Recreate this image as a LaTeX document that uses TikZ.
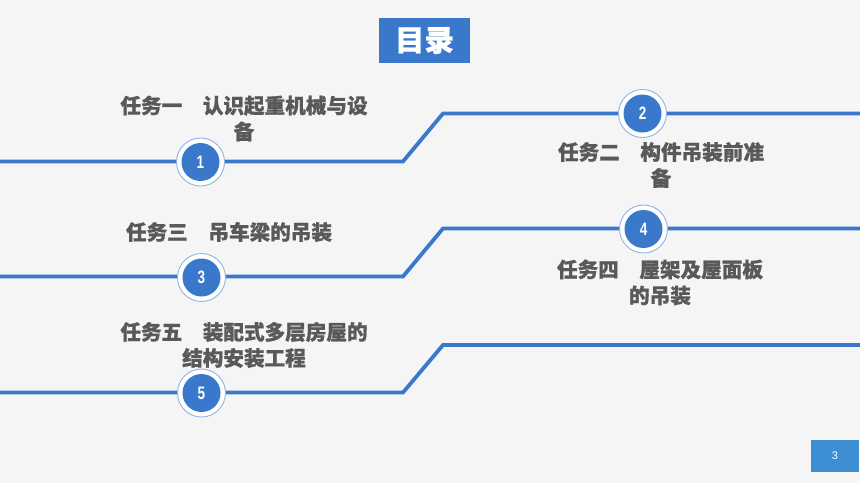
\documentclass[tikz,border=0pt]{standalone}
\usepackage{fontspec}
\newfontfamily\cjk{Noto Sans CJK SC}[BoldFeatures={FakeBold=0.8}]
\newfontfamily\numfont{Liberation Sans}
\definecolor{bgc}{HTML}{F5F5F5}
\definecolor{mblue}{HTML}{3A78CC}
\definecolor{rblue}{HTML}{8DB4EA}
\definecolor{pblue}{HTML}{3E8ED3}
\definecolor{tgray}{HTML}{595959}
\tikzset{
  tline/.style={draw=mblue, line width=3.8pt},
  numc/.style={circle, fill=white, draw=rblue, line width=0.9pt, minimum size=48pt, inner sep=0pt,
    path picture={\fill[mblue] (path picture bounding box.center) circle (19pt);},
    text=white, font=\numfont\bfseries\fontsize{18}{18}\selectfont},
  task/.style={align=center, text=tgray, font=\cjk\bfseries\fontsize{20.6}{26}\selectfont, inner sep=0pt},
}
\begin{document}
\begin{tikzpicture}[x=1pt,y=-1pt]
\fill[bgc] (0,0) rectangle (860,483);
\useasboundingbox (0,0) rectangle (860,483);
% line coordinates
\coordinate (a0) at (0,161.5);   \coordinate (a1) at (403,161.5);
\coordinate (a2) at (443,113.5); \coordinate (a3) at (860,113.5);
\coordinate (b0) at (0,276.5);   \coordinate (b1) at (403,276.5);
\coordinate (b2) at (443,228.5); \coordinate (b3) at (860,228.5);
\coordinate (d0) at (0,392.5);   \coordinate (d1) at (403,392.5);
\coordinate (d2) at (443,345);   \coordinate (d3) at (860,345);
\draw[tline] (a0) -- (a1) -- (a2) -- (a3);
\draw[tline] (b0) -- (b1) -- (b2) -- (b3);
\draw[tline] (d0) -- (d1) -- (d2) -- (d3);
% circles
\node[numc] (c1) at (200.5,162) {\scalebox{0.75}[1]{1}};
\node[numc] (c2) at (642.5,113.5) {\scalebox{0.75}[1]{2}};
\node[numc] (c3) at (201.5,277.5) {\scalebox{0.75}[1]{3}};
\node[numc] (c4) at (643.5,229) {\scalebox{0.75}[1]{4}};
\node[numc] (c5) at (201.5,393) {\scalebox{0.75}[1]{5}};
% texts
\node[task] (t1) at (244,118.5) {任务一　认识起重机械与设\\备};
\node[task] (t2) at (661,165) {任务二　构件吊装前准\\备};
\node[task] (t3) at (229,232) {任务三　吊车梁的吊装};
\node[task] (t4) at (660,282.5) {任务四　屋架及屋面板\\的吊装};
\node[task] (t5) at (244,345) {任务五　装配式多层房屋的\\结构安装工程};
% title
\node[fill=mblue, minimum width=91pt, minimum height=45pt, inner sep=0pt, text=white,
  font=\cjk\bfseries\fontsize{29.5}{29.5}\selectfont] (title) at (424.5,40.5) {目录};
% page number
\node[fill=pblue, minimum width=48pt, minimum height=32pt, inner sep=0pt, text=white,
  font=\numfont\fontsize{11}{11}\selectfont] (pg) at (835,456) {3};
\end{tikzpicture}
\end{document}
